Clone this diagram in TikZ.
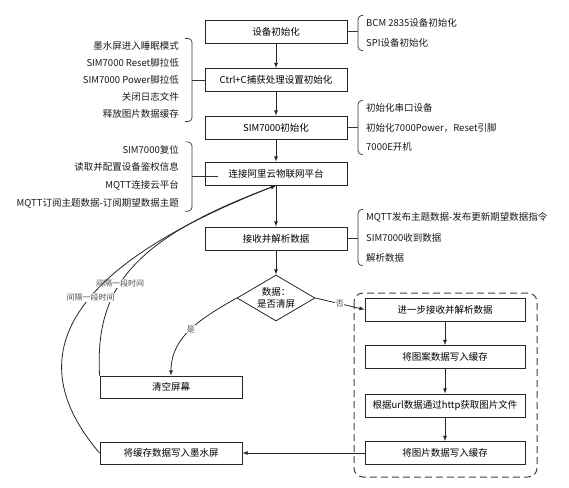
\documentclass[tikz,border=0pt]{standalone}
\usepackage{fontspec}
\setmainfont{Noto Sans CJK SC}
\usetikzlibrary{shapes.geometric}

\begin{document}
\begin{tikzpicture}[x=1pt, y=-1pt,
    box/.style={draw=black!85, line width=0.9pt, minimum width=142pt, minimum height=23pt, inner sep=1pt, font=\fontsize{9.5}{11}\selectfont},
    rbox/.style={box, minimum width=160pt},
    dec/.style={diamond, draw=black!85, line width=0.8pt, aspect=1.7, inner sep=0pt, minimum width=78pt, minimum height=46pt, align=center, font=\fontsize{9.5}{12}\selectfont},
    arr/.style={draw=black!85, line width=0.8pt, -latex},
    lbl/.style={fill=white, inner sep=0.5pt, text=black!70, font=\fontsize{8}{9}\selectfont},
    grp/.style={inner xsep=0pt, inner ysep=3pt, text=black!90, font=\fontsize{9.5}{#1}\selectfont},
    brc/.style={draw=black!80, line width=0.7pt, rounded corners=4pt},
    frm/.style={draw=black!75, line width=1pt, dash pattern=on 7pt off 4pt, rounded corners=9pt}
]
    \useasboundingbox (0,0) rectangle (569,487);

    % main column
    \node[box] (init)  at (276,31.5)  {设备初始化};
    \node[box] (ctrlc) at (276,80)    {Ctrl+C捕获处理设置初始化};
    \node[box] (sim)   at (276,127.5) {SIM7000初始化};
    \node[box] (cloud) at (276,173.5) {连接阿里云物联网平台};
    \node[box] (recv)  at (276,238.5) {接收并解析数据};
    \node[dec] (ask)   at (276,298)   {数据：\\是否清屏};
    \node[box, minimum height=22pt] (clear) at (171,387) {清空屏幕};
    \node[box, minimum height=22pt] (show)  at (171,453) {将缓存数据写入墨水屏};

    % right column
    \draw[frm] (354,293) rectangle (537,477);
    \node[rbox] (more) at (445,309.5) {进一步接收并解析数据};
    \node[rbox] (pat)  at (445,357)   {将图案数据写入缓存};
    \node[rbox] (url)  at (445,405.5) {根据url数据通过http获取图片文件};
    \node[rbox] (buf)  at (445,453)   {将图片数据写入缓存};

    % notes
    \node[grp=20, align=left, anchor=west] (g1) at (366,33) {BCM 2835设备初始化\\SPI设备初始化};
    \node[grp=17, align=right, anchor=east] (g2) at (179,80) {墨水屏进入睡眠模式\\SIM7000 Reset脚拉低\\SIM7000 Power脚拉低\\关闭日志文件\\释放图片数据缓存};
    \node[grp=19.5, align=left, anchor=west] (g3) at (366,127.5) {初始化串口设备\\初始化7000Power，Reset引脚\\7000E开机};
    \node[grp=17.7, align=right, anchor=east] (g4) at (179,176.5) {SIM7000复位\\读取并配置设备鉴权信息\\MQTT连接云平台\\MQTT订阅主题数据-订阅期望数据主题};
    \node[grp=20.5, align=left, anchor=west] (g5) at (366,237.5) {MQTT发布主题数据-发布更新期望数据指令\\SIM7000收到数据\\解析数据};

    \draw[brc] ([xshift=-3pt]g1.north west) -- ([xshift=-8pt]g1.north west) -- ([xshift=-8pt]g1.south west) -- ([xshift=-3pt]g1.south west);
    \draw[brc] (init.east) -- ([xshift=-8pt]g1.west |- init.east);
    \draw[brc] ([xshift=-3pt]g3.north west) -- ([xshift=-8pt]g3.north west) -- ([xshift=-8pt]g3.south west) -- ([xshift=-3pt]g3.south west);
    \draw[brc] (sim.east) -- ([xshift=-8pt]g3.west |- sim.east);
    \draw[brc] ([xshift=-3pt]g5.north west) -- ([xshift=-8pt]g5.north west) -- ([xshift=-8pt]g5.south west) -- ([xshift=-3pt]g5.south west);
    \draw[brc] (recv.east) -- ([xshift=-8pt]g5.west |- recv.east);
    \draw[brc] ([xshift=6pt]g2.north east) -- ([xshift=13pt]g2.north east) -- ([xshift=13pt]g2.south east) -- ([xshift=6pt]g2.south east);
    \draw[brc] ([xshift=13pt]g2.east) -- (ctrlc.west);
    \draw[brc] ([xshift=6pt]g4.north east) -- ([xshift=13pt]g4.north east) -- ([xshift=13pt]g4.south east) -- ([xshift=6pt]g4.south east);
    \draw[brc] ([xshift=13pt]g4.east) -- ([xshift=13pt]g4.east -| cloud.west);

    % flow
    \draw[arr] (init) -- (ctrlc);
    \draw[arr] (ctrlc) -- (sim);
    \draw[arr] (sim) -- (cloud);
    \draw[arr] (cloud) -- (recv);
    \draw[arr] (recv) -- (ask);
    \draw[arr] (ask.east) -- node[lbl] {否} (more.west);
    \draw[arr] (ask.west) to[out=-150, in=90] node[lbl] {是} (clear.north);
    \draw[arr] (more) -- (pat);
    \draw[arr] (pat) -- (url);
    \draw[arr] (url) -- (buf);
    \draw[arr] (buf) -- (show);
    \draw[arr] (clear.north west) .. controls (95,290) and (130,240) .. node[lbl, pos=0.42] {间隔一段时间} (cloud.south);
    \draw[arr] (show.west) .. controls (20,360) and (60,270) .. node[lbl, pos=0.57] {间隔一段时间} (cloud.south);
\end{tikzpicture}
\end{document}
